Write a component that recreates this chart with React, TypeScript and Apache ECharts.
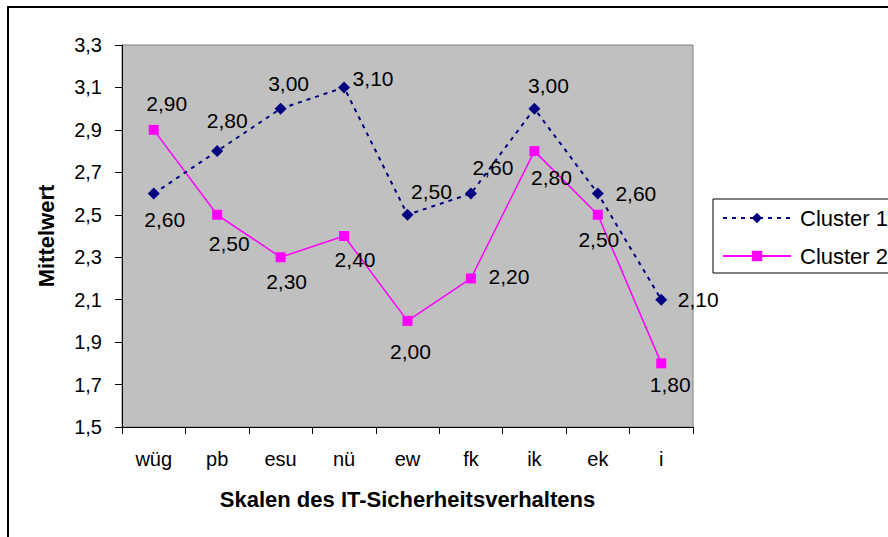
import React, { useEffect, useRef } from "react";
import * as echarts from "echarts";

// Skalen (categories) and mean values per cluster
const categories = ["wüg", "pb", "esu", "nü", "ew", "fk", "ik", "ek", "i"];
const cluster1 = [2.6, 2.8, 3.0, 3.1, 2.5, 2.6, 3.0, 2.6, 2.1];
const cluster2 = [2.9, 2.5, 2.3, 2.4, 2.0, 2.2, 2.8, 2.5, 1.8];

// Value-axis range
const yMin = 1.5;
const yMax = 3.3;
const yStep = 0.2;

// Label placement relative to each marker centre, [dx, dy] in px
const labelOffsets1: [number, number][] = [
  [11, 26], [10, -31], [8, -25], [29, -9], [24, -23], [22, -26], [14, -23], [38, 0], [37, 0],
];
const labelOffsets2: [number, number][] = [
  [13, -26], [12, 29], [6, 24], [11, 23], [3, 31], [38, -2], [17, 26], [1, 25], [9, 21],
];

const FONT = "'Liberation Sans', Arial, sans-serif";

const fmt = (v: number, d: number) => v.toFixed(d).replace(".", ",");

function buildData(values: number[], offsets: [number, number][]) {
  return values.map((v, i) => ({
    value: v,
    label: { offset: offsets[i] },
  }));
}

export default function App() {
  const ref = useRef<HTMLDivElement>(null);

  useEffect(() => {
    if (!ref.current) return;
    const chart = echarts.init(ref.current, null, { renderer: "svg" });

    const labelBase = {
      show: true,
      position: "inside",
      align: "center",
      verticalAlign: "middle",
      color: "#000",
      fontFamily: FONT,
      fontSize: 21,
      formatter: (p: any) => fmt(p.value, 2),
    };

    chart.setOption({
      animation: false,
      backgroundColor: "#fff",
      textStyle: { fontFamily: FONT },
      grid: {
        left: 122,
        top: 45,
        width: 571,
        height: 382,
        show: true,
        backgroundColor: "#C0C0C0",
        borderColor: "#808080",
        borderWidth: 1,
      },
      graphic: [
        {
          type: "rect",
          z: 0,
          shape: { x: 8, y: 7, width: 1000, height: 1000 },
          style: { fill: "none", stroke: "#000", lineWidth: 2 },
        },
        {
          type: "rect",
          z: 1,
          shape: { x: 713, y: 199, width: 300, height: 74 },
          style: { fill: "#fff", stroke: "#000", lineWidth: 1 },
        },
      ],
      legend: {
        orient: "vertical",
        left: 722,
        top: 207,
        padding: 0,
        z: 5,
        itemWidth: 68,
        itemHeight: 13,
        itemGap: 16,
        textStyle: { fontFamily: FONT, fontSize: 22, color: "#000", padding: [0, 0, 0, 4] },
        data: ["Cluster 1", "Cluster 2"],
      },
      xAxis: {
        type: "category",
        data: categories,
        boundaryGap: true,
        name: "Skalen des IT-Sicherheitsverhaltens",
        nameLocation: "middle",
        nameGap: 61,
        nameTextStyle: { fontFamily: FONT, fontSize: 22, fontWeight: "bold", color: "#000" },
        axisLine: { lineStyle: { color: "#000", width: 1 } },
        axisTick: { show: true, length: 7, alignWithLabel: false, lineStyle: { color: "#000" } },
        axisLabel: { fontFamily: FONT, fontSize: 20, color: "#000", margin: 22 },
        splitLine: { show: false },
      },
      yAxis: {
        type: "value",
        min: yMin,
        max: yMax,
        interval: yStep,
        name: "Mittelwert",
        nameLocation: "middle",
        nameGap: 65,
        nameRotate: 90,
        nameTextStyle: { fontFamily: FONT, fontSize: 22, fontWeight: "bold", color: "#000" },
        axisLine: { show: true, lineStyle: { color: "#000", width: 1 } },
        axisTick: { show: true, length: 7, lineStyle: { color: "#000" } },
        axisLabel: {
          fontFamily: FONT,
          fontSize: 20,
          color: "#000",
          margin: 20,
          formatter: (v: number) => fmt(v, 1),
        },
        splitLine: { show: false },
      },
      series: [
        {
          name: "Cluster 1",
          type: "line",
          data: buildData(cluster1, labelOffsets1),
          symbol: "diamond",
          symbolSize: 12,
          showAllSymbol: true,
          itemStyle: { color: "#000080" },
          lineStyle: { color: "#000080", width: 2, type: [4, 5] },
          label: labelBase,
          z: 3,
        },
        {
          name: "Cluster 2",
          type: "line",
          data: buildData(cluster2, labelOffsets2),
          symbol: "rect",
          symbolSize: 10,
          showAllSymbol: true,
          itemStyle: { color: "#FF00FF" },
          lineStyle: { color: "#FF00FF", width: 1.5, type: "solid" },
          label: labelBase,
          z: 2,
        },
      ],
    });

    return () => chart.dispose();
  }, []);

  return (
    <div
      ref={ref}
      style={{ position: "fixed", left: 0, top: 0, width: 888, height: 537 }}
    />
  );
}
